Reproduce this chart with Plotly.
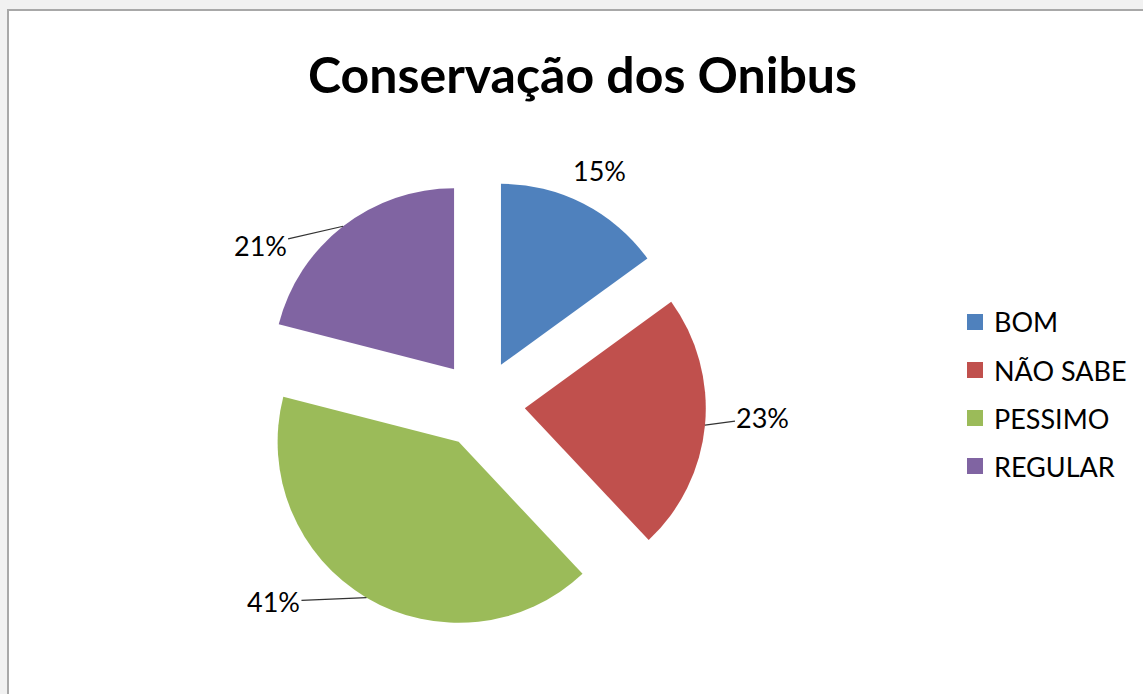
import math
import plotly.graph_objects as go

# Survey results: condition of the buses
categories = ["BOM", "NÃO SABE", "PESSIMO", "REGULAR"]
values = [15, 23, 41, 21]
colors = ["#4F81BD", "#C0504D", "#9BBB59", "#8064A2"]
title_text = "Conservação dos Onibus"

W, H = 1143, 694
FONT = "Lato"

# pie geometry (pixels)
PIE_CX, PIE_CY = 481, 404
PIE_R = 181
PULL = 0.243
half = PIE_R * (1 + PULL)


def px(x):
    return x / W


def py(y):
    return 1 - y / H


fig = go.Figure(
    go.Pie(
        labels=categories,
        values=values,
        marker=dict(colors=colors, line=dict(width=0)),
        sort=False,
        direction="clockwise",
        rotation=0,
        pull=[PULL] * len(values),
        textinfo="none",
        hoverinfo="label+percent",
        showlegend=False,
        domain=dict(
            x=[px(PIE_CX - half), px(PIE_CX + half)],
            y=[py(PIE_CY + half), py(PIE_CY - half)],
        ),
    )
)

# outer chart frame
shapes = [
    dict(type="rect", xref="paper", yref="paper",
         x0=px(8), y0=py(10), x1=px(1170), y1=py(720),
         fillcolor="white", line=dict(color="#A8A8A8", width=2), layer="below"),
]

annotations = [
    dict(text=title_text, x=px(582), y=py(74), xref="paper", yref="paper",
         xanchor="center", yanchor="middle", showarrow=False,
         font=dict(family=FONT, size=50, color="black", weight="bold")),
]

# percentage labels with leader lines from the middle of each slice's arc
label_offsets = [(16, -33), (58, -8), (-93, 4), (-83, 19)]
total = sum(values)
cum = 0.0
for v, (ox, oy) in zip(values, label_offsets):
    frac = v / total
    mid = math.radians(360 * (cum + frac / 2))
    cum += frac
    sx, sy = math.sin(mid), -math.cos(mid)
    tipx = PIE_CX + PULL * PIE_R * sx
    tipy = PIE_CY + PULL * PIE_R * sy
    ex, ey = tipx + PIE_R * sx, tipy + PIE_R * sy
    show_line = abs(ox) > 30
    annotations.append(dict(
        text=f"{frac * 100:.0f}%", x=px(ex), y=py(ey), xref="paper", yref="paper",
        ax=ox, ay=oy, showarrow=True, arrowhead=0, arrowwidth=1.2, standoff=0,
        arrowcolor="#333333" if show_line else "rgba(0,0,0,0)",
        font=dict(family=FONT, size=27, color="black"),
    ))

# legend
LEG_X, LEG_Y0, LEG_STEP, SQ = 967, 322, 48, 16
for i, (cat, col) in enumerate(zip(categories, colors)):
    cy = LEG_Y0 + i * LEG_STEP
    shapes.append(dict(type="rect", xref="paper", yref="paper",
                       x0=px(LEG_X), x1=px(LEG_X + SQ),
                       y0=py(cy + SQ / 2), y1=py(cy - SQ / 2),
                       fillcolor=col, line=dict(width=0)))
    annotations.append(dict(text=cat, x=px(LEG_X + SQ + 9), y=py(cy),
                            xref="paper", yref="paper", xanchor="left",
                            yanchor="middle", showarrow=False,
                            font=dict(family=FONT, size=27, color="black")))

fig.update_layout(
    width=W, height=H,
    margin=dict(l=0, r=0, t=0, b=0),
    paper_bgcolor="#F1F1F1",
    plot_bgcolor="white",
    shapes=shapes,
    annotations=annotations,
)

fig.write_html("out.html")
